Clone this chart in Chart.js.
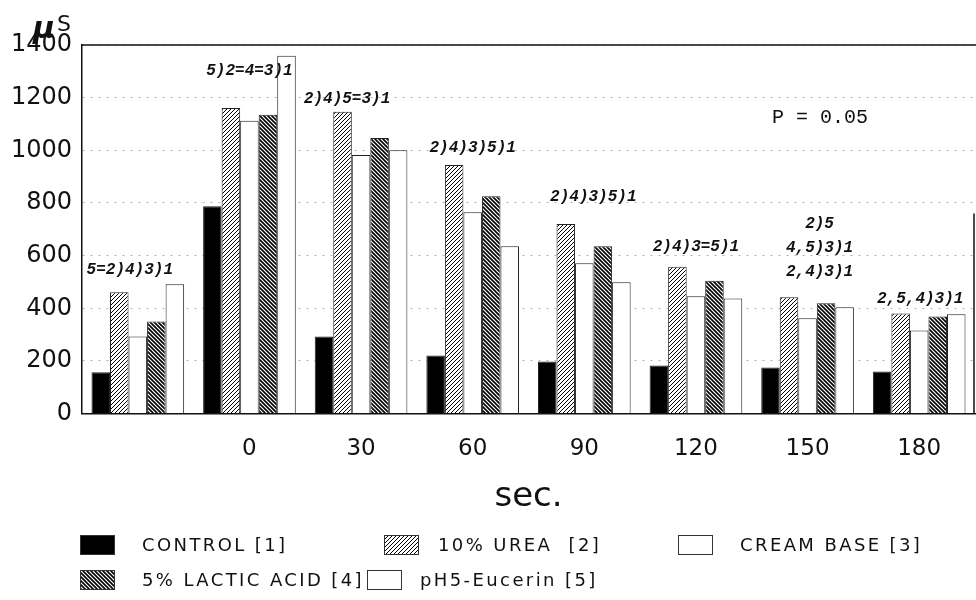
<!DOCTYPE html>
<html>
<head>
<meta charset="utf-8">
<script src="https://cdn.jsdelivr.net/npm/chart.js@4/dist/chart.umd.min.js"></script>
<style>
  html, body { margin: 0; padding: 0; background: #fff; }
  #wrap { width: 976px; height: 600px; }
</style>
</head>
<body>
<div id="wrap"><canvas id="graph" width="976" height="600"></canvas></div>
<script>
// values (μS)
const categories = ['', '0', '30', '60', '90', '120', '150', '180'];
const control = [157, 788, 293, 221, 198, 183, 175, 160];
const urea = [461, 1161, 1146, 944, 720, 558, 442, 380];
const creamBase = [293, 1112, 982, 765, 571, 446, 362, 316];
const lacticAcid = [350, 1135, 1047, 826, 636, 505, 419, 369];
const eucerin = [491, 1359, 1000, 636, 499, 437, 404, 377];
const yTicks = [0, 200, 400, 600, 800, 1000, 1200, 1400];

// significance ranking text above each group, with the level (μS) it sits at
const rankText = [
    ['5=2)4)3)1'],
    ['5)2=4=3)1'],
    ['2)4)5=3)1'],
    ['2)4)3)5)1'],
    ['2)4)3)5)1'],
    ['2)4)3=5)1'],
    ['2)5', '4,5)3)1', '2,4)3)1'],
    ['2,5,4)3)1']
];
const rankLevel = [545, 1302, 1196, 1009, 823, 632, 720, 434];
const rankShift = [-8, 0, -14, 0, 9, 0, 12, 1];

function hatch(step, width, dir) {
    const c = document.createElement('canvas');
    c.width = step;
    c.height = step;
    const g = c.getContext('2d');
    g.fillStyle = '#fff';
    g.fillRect(0, 0, step, step);
    g.strokeStyle = '#000';
    g.lineWidth = width;
    g.beginPath();
    if (dir > 0) {
        g.moveTo(0, step); g.lineTo(step, 0);
        g.moveTo(-1, 1); g.lineTo(1, -1);
        g.moveTo(step - 1, step + 1); g.lineTo(step + 1, step - 1);
    } else {
        g.moveTo(0, 0); g.lineTo(step, step);
        g.moveTo(-1, step - 1); g.lineTo(1, step + 1);
        g.moveTo(step - 1, -1); g.lineTo(step + 1, 1);
    }
    g.stroke();
    return document.createElement('canvas').getContext('2d').createPattern(c, 'repeat');
}

const ureaFill = hatch(4, 1, 1);
const lacticFill = hatch(4, 1.6, -1);

const context = document.getElementById('graph');

const extras = {
    id: 'extras',
    afterDatasetsDraw(chart) {
        const ctx = chart.ctx;
        const area = chart.chartArea;
        const x = chart.scales.x;
        const y = chart.scales.y;
        ctx.save();

        // frame lines
        ctx.strokeStyle = '#111';
        ctx.lineWidth = 1.5;
        ctx.beginPath();
        ctx.moveTo(area.left, area.top);
        ctx.lineTo(chart.width, area.top);
        ctx.moveTo(area.right - 1, y.getPixelForValue(760));
        ctx.lineTo(area.right - 1, area.bottom);
        ctx.stroke();

        // unit label
        ctx.fillStyle = '#111';
        ctx.textBaseline = 'middle';
        ctx.textAlign = 'left';
        ctx.font = 'italic bold 30px "DejaVu Sans"';
        ctx.fillText('μ', 33, 30);
        ctx.font = '22px "DejaVu Sans"';
        ctx.fillText('S', 57, 25);

        // ranking annotations
        ctx.textAlign = 'center';
        ctx.font = 'italic bold 16px "Liberation Mono"';
        rankText.forEach(function (lines, i) {
            const cx = x.getPixelForValue(i) + rankShift[i];
            const top = y.getPixelForValue(rankLevel[i]);
            lines.forEach(function (t, k) {
                ctx.fillText(t, cx, top + k * 24);
            });
        });

        ctx.font = '20px "Liberation Mono"';
        ctx.fillText('P = 0.05', 820, y.getPixelForValue(1123));

        // legend
        const items = [
            { label: 'CONTROL [1]', fill: '#000', bx: 80, tx: 142, row: 0 },
            { label: '10% UREA  [2]', fill: ureaFill, bx: 384, tx: 438, row: 0 },
            { label: 'CREAM BASE [3]', fill: '#fff', bx: 678, tx: 740, row: 0 },
            { label: '5% LACTIC ACID [4]', fill: lacticFill, bx: 80, tx: 142, row: 1 },
            { label: 'pH5-Eucerin [5]', fill: '#fff', bx: 367, tx: 420, row: 1 }
        ];
        ctx.textAlign = 'left';
        ctx.font = '18px "DejaVu Sans"';
        ctx.letterSpacing = '2.4px';
        items.forEach(function (it) {
            const cy = 545 + it.row * 35;
            ctx.fillStyle = it.fill;
            ctx.fillRect(it.bx, cy - 10, 35, 20);
            ctx.strokeStyle = '#333';
            ctx.lineWidth = 1;
            ctx.strokeRect(it.bx + 0.5, cy - 9.5, 34, 19);
            ctx.fillStyle = '#111';
            ctx.fillText(it.label, it.tx, cy + 1);
        });
        ctx.restore();
    }
};

const barStyle = {
    borderColor: '#222',
    borderWidth: 1,
    borderSkipped: 'bottom'
};

const data = {
    type: 'bar',
    data: {
        labels: categories,
        datasets: [
            Object.assign({ label: 'CONTROL [1]', data: control, backgroundColor: '#000' }, barStyle),
            Object.assign({ label: '10% UREA [2]', data: urea, backgroundColor: ureaFill }, barStyle),
            Object.assign({ label: 'CREAM BASE [3]', data: creamBase, backgroundColor: '#fff' }, barStyle),
            Object.assign({ label: '5% LACTIC ACID [4]', data: lacticAcid, backgroundColor: lacticFill }, barStyle),
            Object.assign({ label: 'pH5-Eucerin [5]', data: eucerin, backgroundColor: '#fff' }, barStyle)
        ]
    },
    options: {
        responsive: false,
        animation: false,
        layout: { padding: { top: 45, right: 1, bottom: 82, left: 0 } },
        plugins: {
            legend: { display: false },
            tooltip: { enabled: false }
        },
        datasets: {
            bar: { categoryPercentage: 0.83, barPercentage: 1.0 }
        },
        scales: {
            x: {
                grid: { display: false },
                border: { color: '#111', width: 1.5 },
                ticks: {
                    color: '#111',
                    font: { family: 'DejaVu Sans', size: 23 },
                    padding: 14,
                    maxRotation: 0
                },
                title: {
                    display: true,
                    text: 'sec.',
                    color: '#111',
                    font: { family: 'DejaVu Sans', size: 34 },
                    padding: { top: 0, bottom: 0 }
                }
            },
            y: {
                min: 0,
                max: 1400,
                afterFit: function (scale) { scale.width = 82; },
                afterBuildTicks: function (scale) {
                    scale.ticks = yTicks.map(function (v) { return { value: v }; });
                },
                grid: {
                    color: '#b0b0b0',
                    lineWidth: 1,
                    drawTicks: false
                },
                border: { color: '#111', width: 1.5, dash: [2, 6], display: true },
                ticks: {
                    color: '#111',
                    font: { family: 'DejaVu Sans', size: 24 },
                    padding: 10,
                    callback: function (v) { return String(v); }
                }
            }
        }
    },
    plugins: [extras]
};
new Chart(context, data);
</script>
</body>
</html>
